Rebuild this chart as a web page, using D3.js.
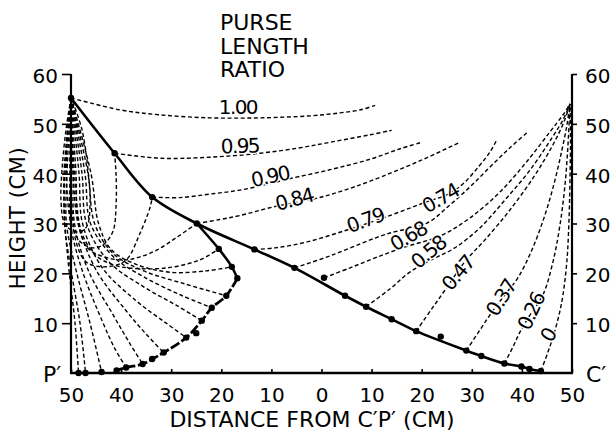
<!DOCTYPE html>
<html><head><meta charset="utf-8">
<script src="https://cdn.jsdelivr.net/npm/d3@7"></script>
<style>
html,body{margin:0;padding:0;background:#fff;}
svg{display:block;font-family:"DejaVu Sans",sans-serif;}
</style></head><body>
<svg id="chart" width="614" height="434"></svg>
<script>
// ---------- data ----------
const xTicks = [-50,-40,-30,-20,-10,0,10,20,30,40,50];
const yTicks = [10,20,30,40,50,60];
const titleLines = ["PURSE","LENGTH","RATIO"];
const ratioLabels = ["1.00","0.95","0.90","0.84","0.79","0.74","0.68","0.58","0.47","0.37","0.26","0"];
const ratioLabelX = [-16.7,-16.3,-10.3,-5.5,8.7,23.7,17.3,21.3,27.2,35.8,41.8,45.2];
const ratioLabelY = [53.4,45.6,39.5,34.9,30.7,35.1,27.5,24.3,20.1,15.1,12.4,7.6];
const ratioLabelAngle = [0,-2,-12,-15,-20,-30,-30,-40,-50,-58,-65,-60];

// upper (leadline) trajectory, solid
const upperPath = [[-50,55.2],[-41.3,44.1],[-33.8,35.3],[-24.9,30.0],[-13.4,24.8],[-5.4,21.1],[4.7,15.5],[8.9,13.3],[14.0,10.8],[18.9,8.4],[28.9,4.5],[31.9,3.4],[36.5,1.9],[39.9,1.3],[41.5,0.8],[43.8,0.4]];
const upperDots = [[-50,55.2],[-41.3,44.1],[-33.8,35.3],[-24.9,30.0],[-13.4,24.8],[-5.4,21.1],[0.5,19.1],[4.7,15.5],[8.9,13.3],[14.0,10.8],[18.9,8.4],[23.8,7.3],[28.9,4.5],[31.9,3.4],[36.5,1.9],[39.9,1.3],[41.5,0.8],[43.8,0.4]];
// lower trajectory: solid part and broken part
const lowerSolid = [[-24.9,30.0],[-20.5,24.9],[-17.9,21.3],[-16.8,19.0]];
const lowerBroken = [[-16.8,19.0],[-19.0,15.5],[-21.9,13.1],[-23.9,10.5],[-27.0,7.1],[-31.5,4.1],[-33.8,2.8],[-35.7,1.8],[-39.0,1.1],[-40.9,0.5]];
const lowerDots = [[-20.5,24.9],[-17.9,21.3],[-16.8,19.0],[-19.0,15.5],[-21.9,13.1],[-23.9,10.5],[-25.0,8.0],[-27.0,7.1],[-31.5,4.1],[-33.8,2.8],[-35.7,1.8],[-39.0,1.1],[-40.9,0.5],[-43.9,0.2],[-47.1,0.0],[-48.5,0.0]];

// iso purse-length-ratio curves (dashed, right side)
const isoCurves = [
 [[-50,55.2],[-40.2,52.8],[-32.2,51.8],[-22.3,51.2],[-12.3,51.2],[-2.3,51.6],[3.7,52.2],[7.7,52.8],[10.7,53.7]],
 [[-41.3,44.1],[-32.2,43.1],[-22.3,43.3],[-12.3,44.1],[-4.3,45.2],[1.7,46.3],[9.7,47.8],[14.0,48.7]],
 [[-33.8,35.3],[-28.3,35.2],[-22.3,35.9],[-16.3,36.7],[-10.3,38.0],[-6.3,39.0],[1.7,40.8],[9.7,42.9],[15.7,45.0],[20.0,46.3]],
 [[-24.9,30.0],[-20.3,30.8],[-16.3,31.6],[-9.3,33.4],[-1.3,35.0],[3.7,36.4],[9.7,38.5],[19.7,42.6],[27.6,46.3]],
 [[-13.4,24.8],[-9.3,25.1],[-2.9,26.3],[5.1,28.7],[12.3,31.1],[20.3,34.1],[25.7,36.1],[28.6,38.3],[31.6,41.7],[33.6,44.3],[35.0,46.8]],
 [[-5.4,21.1],[1.7,23.5],[9.7,26.7],[13.7,28.1],[21.1,30.1],[25.6,33.7],[29.6,37.3],[33.6,41.3],[37.6,45.2],[41.0,48.2]],
 [[0.5,19.1],[5.7,21.1],[10.7,23.1],[16.7,25.3],[23.7,27.5],[29.6,31.1],[35.6,36.3],[41.2,42.7],[45.6,48.4],[48.2,51.8],[49.6,54.0]],
 [[8.9,13.3],[13.7,16.9],[17.7,20.3],[22.7,23.1],[26.6,25.1],[31.6,29.1],[36.6,34.7],[41.6,40.7],[46.0,47.2],[48.2,50.8],[49.6,54.0]],
 [[18.9,8.4],[22.1,13.0],[24.7,16.7],[28.6,22.3],[32.6,26.7],[37.6,32.7],[42.6,39.7],[46.2,45.8],[48.4,50.4],[49.6,54.0]],
 [[28.9,4.5],[31.6,8.6],[34.0,12.2],[36.6,15.7],[39.2,19.1],[42.0,24.7],[44.6,31.7],[46.6,38.7],[48.0,44.8],[49.0,49.8],[49.6,54.0]],
 [[36.5,1.9],[38.2,5.2],[39.6,8.2],[41.6,11.6],[44.2,15.7],[46.2,22.3],[47.6,29.7],[48.6,37.7],[49.2,45.8],[49.6,54.0]],
 [[43.8,0.4],[45.2,4.2],[46.2,7.2],[47.4,11.6],[48.2,15.7],[49.0,22.7],[49.4,30.7],[49.6,38.7],[49.7,46.8],[49.6,54.0]]
];

// net profiles (dashed, left side): loops and fan to the lower trajectory
const profileLoops = [
 [[-50,55.2],[-51.0,48.8],[-51.8,40.7],[-52.0,34.7],[-51.4,30.3],[-50.0,28.7],[-48.2,28.3],[-46.8,29.5],[-46.2,33.7],[-46.6,40.7],[-47.8,48.8],[-49.8,54.8]],
 [[-50,55.2],[-50.8,46.8],[-50.8,36.7],[-50.0,30.3],[-48.2,26.4],[-45.6,25.1],[-43.4,25.9],[-41.6,28.5],[-41.0,33.7],[-41.0,39.7],[-41.3,44.1]],
 [[-50,55.2],[-50.2,44.8],[-49.8,32.7],[-48.8,25.7],[-47.0,22.3],[-43.6,21.3],[-39.2,22.5],[-36.2,28.1],[-34.2,33.3],[-33.8,35.3]],
 [[-50,55.2],[-49.6,40.7],[-48.6,30.0],[-46.6,25.0],[-43.0,23.2],[-39.2,22.7],[-36.2,23.3],[-32.8,24.7],[-28.8,27.3],[-24.9,30.0]],
 [[-50,55.2],[-49.2,38.7],[-47.8,28.0],[-44.8,23.4],[-41.2,21.6],[-37.6,21.0],[-30.8,21.1],[-24.3,22.7],[-20.5,24.9]]
];
const profileFan = [
 [[-50,55.2],[-46.0,40],[-44.5,30],[-42.0,24.8],[-37.0,21.8],[-30.0,20.2],[-23.0,20.5],[-17.9,21.3]],
 [[-50,55.2],[-46.6,40],[-45.3,30],[-41.6,24.0],[-35.5,20.5],[-27.0,17.8],[-19.0,15.5]],
 [[-50,55.2],[-47.2,40],[-46.1,30],[-41.6,23.4],[-35.5,19.3],[-28.0,15.6],[-21.9,13.1]],
 [[-50,55.2],[-47.8,40],[-46.9,30],[-42.5,22.4],[-35.5,17.3],[-29.0,13.6],[-23.9,10.5]],
 [[-50,55.2],[-48.4,40],[-47.7,30],[-43.8,21.2],[-37.0,14.5],[-31.0,10.0],[-27.0,7.1]],
 [[-50,55.2],[-49.0,40],[-48.5,30],[-45.0,20.7],[-39.0,12.5],[-35.0,7.8],[-31.5,4.1]],
 [[-50,55.2],[-49.6,40],[-49.3,30],[-46.6,20.7],[-41.5,11.5],[-38.3,6.0],[-35.7,1.8]],
 [[-50,55.2],[-50.2,40],[-50.1,30],[-47.8,20.7],[-43.8,10.5],[-41.3,5.0],[-39.0,1.1]],
 [[-50,55.2],[-50.8,40],[-50.9,30],[-49.0,20.7],[-46.2,10.0],[-43.9,0.2]],
 [[-50,55.2],[-51.2,40],[-51.3,30],[-50.0,20.7],[-48.2,10.0],[-47.1,0.0]],
 [[-50,55.2],[-51.4,40],[-51.2,30],[-50.4,20.7],[-49.2,10.0],[-48.5,0.0]]
];

// ---------- chart ----------
const svg = d3.select("#chart");
const x = d3.scaleLinear().domain([-50,50]).range([71,572]);
const y = d3.scaleLinear().domain([0,60]).range([373,74]);
const line = d3.line().x(d=>x(d[0])).y(d=>y(d[1])).curve(d3.curveCatmullRom.alpha(0.5));

const dashed = svg.append("g").attr("fill","none").attr("stroke","#000")
  .attr("stroke-width",1.4).attr("stroke-dasharray","4,2.6");
dashed.selectAll("path.iso").data(isoCurves).join("path").attr("class","iso").attr("d",line);
dashed.selectAll("path.loop").data(profileLoops).join("path").attr("class","loop").attr("d",line);
dashed.selectAll("path.fan").data(profileFan).join("path").attr("class","fan").attr("d",line);

// ratio labels
svg.append("g").selectAll("text").data(ratioLabels).join("text")
  .attr("transform",(d,i)=>`translate(${x(ratioLabelX[i])},${y(ratioLabelY[i])}) rotate(${ratioLabelAngle[i]})`)
  .attr("text-anchor","middle").attr("dy","0.36em")
  .attr("font-size",20).attr("letter-spacing","-1.6px")
  .attr("stroke","#fff").attr("stroke-width",2.5).attr("paint-order","stroke")
  .attr("fill","#000").text(d=>d);

// solid trajectories
svg.append("path").attr("d",line(upperPath)).attr("fill","none").attr("stroke","#000").attr("stroke-width",2.6);
svg.append("path").attr("d",line(lowerSolid)).attr("fill","none").attr("stroke","#000").attr("stroke-width",2.6);
svg.append("path").attr("d",line(lowerBroken)).attr("fill","none").attr("stroke","#000").attr("stroke-width",2.8).attr("stroke-dasharray","10,2.5");

svg.append("g").selectAll("circle").data(upperDots.concat(lowerDots)).join("circle")
  .attr("cx",d=>x(d[0])).attr("cy",d=>y(d[1])).attr("r",3.2).attr("fill","#000");

// axes
const axisG = svg.append("g").attr("stroke","#000").attr("fill","none");
axisG.append("line").attr("x1",x(-50)).attr("x2",x(-50)).attr("y1",y(0)).attr("y2",y(60)).attr("stroke-width",2.2);
axisG.append("line").attr("x1",x(50)).attr("x2",x(50)).attr("y1",y(0)).attr("y2",y(60)).attr("stroke-width",2.2);
axisG.append("line").attr("x1",x(-50)-1).attr("x2",x(50)+1).attr("y1",y(0)).attr("y2",y(0)).attr("stroke-width",2.6);

function styleAxis(g){
  g.select(".domain").remove();
  g.selectAll(".tick line").attr("stroke","#000").attr("stroke-width",1.6);
  g.selectAll(".tick text").attr("fill","#000").attr("font-size",20).attr("font-family","DejaVu Sans, sans-serif");
}
svg.append("g").attr("transform",`translate(${x(-50)},0)`)
  .call(d3.axisLeft(y).tickValues(yTicks).tickSize(9).tickPadding(4))
  .call(styleAxis).call(g=>g.selectAll(".tick text").attr("dy","0.42em"));
svg.append("g").attr("transform",`translate(${x(50)},0)`)
  .call(d3.axisRight(y).tickValues(yTicks).tickSize(5).tickPadding(8))
  .call(styleAxis).call(g=>g.selectAll(".tick text").attr("dy","0.42em"));
svg.append("g").attr("transform",`translate(0,${y(0)})`)
  .call(d3.axisBottom(x).tickValues(xTicks).tickFormat(d=>Math.abs(d)).tickSize(-4).tickPadding(15))
  .call(styleAxis);

// text
svg.append("text").attr("x",43).attr("y",382).attr("font-size",22).text("P\u2032");
svg.append("text").attr("x",586).attr("y",382).attr("font-size",22).text("C\u2032");
svg.append("text").attr("transform","translate(25,218) rotate(-90)").attr("text-anchor","middle")
  .attr("font-size",21).attr("letter-spacing","0.6px").text("HEIGHT (CM)");
svg.append("text").attr("x",312).attr("y",427).attr("text-anchor","middle")
  .attr("font-size",22).text("DISTANCE FROM C\u2032P\u2032 (CM)");
svg.append("g").selectAll("text").data(titleLines).join("text")
  .attr("x",220).attr("y",(d,i)=>30+i*23.5).attr("font-size",22).text(d=>d);
</script>
</body></html>
